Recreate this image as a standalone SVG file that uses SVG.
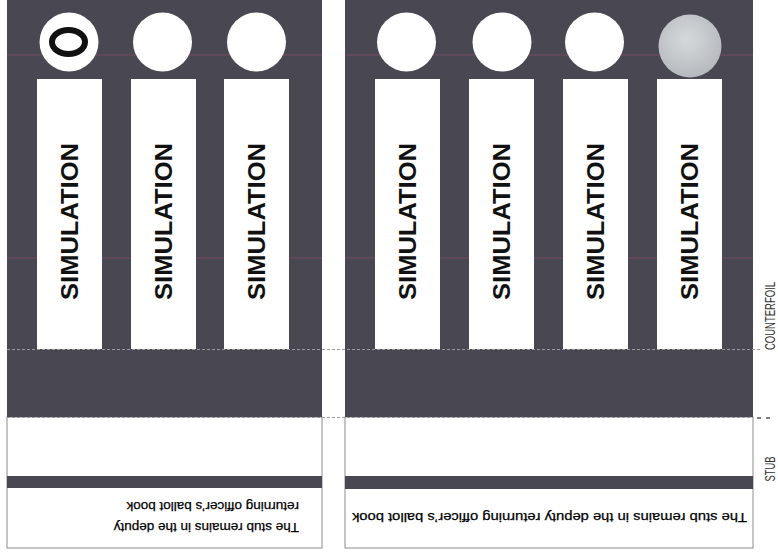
<svg xmlns="http://www.w3.org/2000/svg" width="778" height="557" viewBox="0 0 778 557">
  <style>
    .dark { fill: #494852; }
    .strip { fill: #ffffff; }
    .disc { fill: #ffffff; }
    .tint { stroke: #6e4a62; stroke-width: 1.5; opacity: 0.8; }
    .edge { fill: #ffffff; stroke: #8c8c8c; stroke-width: 1; }
    .sim { font-family: "Liberation Sans", Arial, sans-serif; font-weight: bold; font-size: 23px; fill: #111111; text-anchor: middle; }
    .note { font-family: "Liberation Sans", Arial, sans-serif; font-size: 13.5px; fill: #000000; stroke: #000000; stroke-width: 0.25; }
    .side { font-family: "Liberation Sans", Arial, sans-serif; font-size: 15px; fill: #333333; text-anchor: middle; }
    .perf { stroke: #9a9a9a; stroke-width: 1.2; stroke-dasharray: 3 2; fill: none; }
  </style>
  <defs>
    <radialGradient id="greyDisc" cx="0.45" cy="0.4" r="0.6">
      <stop offset="0" stop-color="#d6d9dc"/>
      <stop offset="1" stop-color="#b6babe"/>
    </radialGradient>
  </defs>
  <rect width="778" height="557" fill="#ffffff"/>

  <g id="ballot-left">
    <rect class="edge" x="7" y="417" width="315" height="131"/>
    <rect class="dark" x="7" y="0" width="315" height="417"/>
    <line class="tint" x1="7" y1="55" x2="322" y2="55"/>
    <line class="tint" x1="7" y1="258" x2="322" y2="258"/>
    <rect class="dark" x="7" y="476" width="315" height="12"/>
    <g id="left-candidate-1">
      <circle class="disc" cx="69" cy="42" r="29.5"/>
      <ellipse cx="68.5" cy="42" rx="16.5" ry="12" fill="none" stroke="#111111" stroke-width="6"/>
      <rect class="strip" x="37" y="79" width="65" height="270"/>
      <text class="sim" x="77.5" y="221.5" transform="rotate(-90 77.5 221.5)" textLength="157" lengthAdjust="spacingAndGlyphs">SIMULATION</text>
    </g>
    <g id="left-candidate-2">
      <circle class="disc" cx="162.5" cy="42" r="29.5"/>
      <rect class="strip" x="131" y="79" width="65" height="270"/>
      <text class="sim" x="171.5" y="221.5" transform="rotate(-90 171.5 221.5)" textLength="157" lengthAdjust="spacingAndGlyphs">SIMULATION</text>
    </g>
    <g id="left-candidate-3">
      <circle class="disc" cx="256.5" cy="42" r="29.5"/>
      <rect class="strip" x="224" y="79" width="65" height="270"/>
      <text class="sim" x="264.5" y="221.5" transform="rotate(-90 264.5 221.5)" textLength="157" lengthAdjust="spacingAndGlyphs">SIMULATION</text>
    </g>
    <g id="left-stub-note" transform="rotate(180 299 523)">
      <text class="note" x="299" y="523">The stub remains in the deputy</text>
      <text class="note" x="299" y="544">returning officer’s ballot book</text>
    </g>
  </g>

  <g id="ballot-right">
    <rect class="edge" x="345" y="417" width="408" height="131"/>
    <rect class="dark" x="345" y="0" width="408" height="417"/>
    <line class="tint" x1="345" y1="55" x2="753" y2="55"/>
    <line class="tint" x1="345" y1="258" x2="753" y2="258"/>
    <rect class="dark" x="345" y="476" width="408" height="13"/>
    <g id="right-candidate-1">
      <circle class="disc" cx="406.5" cy="42" r="29.5"/>
      <rect class="strip" x="375" y="79" width="65" height="270"/>
      <text class="sim" x="415.5" y="221.5" transform="rotate(-90 415.5 221.5)" textLength="157" lengthAdjust="spacingAndGlyphs">SIMULATION</text>
    </g>
    <g id="right-candidate-2">
      <circle class="disc" cx="502" cy="42" r="29.5"/>
      <rect class="strip" x="469" y="79" width="65" height="270"/>
      <text class="sim" x="509.5" y="221.5" transform="rotate(-90 509.5 221.5)" textLength="157" lengthAdjust="spacingAndGlyphs">SIMULATION</text>
    </g>
    <g id="right-candidate-3">
      <circle class="disc" cx="594.5" cy="42" r="29.5"/>
      <rect class="strip" x="563" y="79" width="65" height="270"/>
      <text class="sim" x="603.5" y="221.5" transform="rotate(-90 603.5 221.5)" textLength="157" lengthAdjust="spacingAndGlyphs">SIMULATION</text>
    </g>
    <g id="right-candidate-4">
      <rect class="strip" x="657" y="79" width="65" height="270"/>
      <circle cx="690" cy="46" r="31.5" fill="url(#greyDisc)"/>
      <text class="sim" x="697.5" y="221.5" transform="rotate(-90 697.5 221.5)" textLength="157" lengthAdjust="spacingAndGlyphs">SIMULATION</text>
    </g>
    <text id="right-stub-note" class="note" x="747" y="513" transform="rotate(180 747 513)" textLength="395" lengthAdjust="spacingAndGlyphs">The stub remains in the deputy returning officer’s ballot book</text>
  </g>

  <g id="perforations">
    <line class="perf" x1="7" y1="349.5" x2="760" y2="349.5"/>
    <line class="perf" x1="7" y1="417.5" x2="753" y2="417.5"/>
    <line x1="757" y1="418" x2="761" y2="418" stroke="#555" stroke-width="1.5"/>
    <line x1="766" y1="418" x2="770" y2="418" stroke="#555" stroke-width="1.5"/>
  </g>

  <g id="section-labels">
    <text class="side" x="775" y="316" transform="rotate(-90 775 316)" textLength="68" lengthAdjust="spacingAndGlyphs">COUNTERFOIL</text>
    <text class="side" x="775" y="469" transform="rotate(-90 775 469)" textLength="25" lengthAdjust="spacingAndGlyphs">STUB</text>
  </g>
</svg>
